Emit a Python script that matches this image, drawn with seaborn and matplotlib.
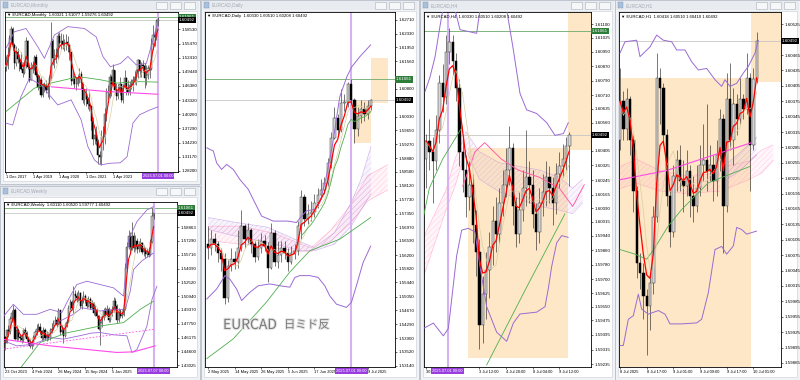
import numpy as np
import pandas as pd
import matplotlib
matplotlib.use("Agg")
import matplotlib.pyplot as plt
import matplotlib.patches as mpatches
import matplotlib.transforms as mtrans
import matplotlib.patheffects as pe
import seaborn as sns

# ---------------- Monthly (index 0 = Dec 2017) ----------------
m_open0 = 1.5040
m_close = [1.5080, 1.5310, 1.5660, 1.5870, 1.5510, 1.5130, 1.5360, 1.5220, 1.5160, 1.5000,
           1.4910, 1.5080, 1.5600, 1.5040, 1.4760, 1.5000, 1.5080, 1.5260, 1.4880, 1.4620,
           1.4760, 1.4440, 1.4660, 1.4640, 1.4560, 1.4640, 1.4810, 1.5610, 1.5240, 1.5300,
           1.5250, 1.5700, 1.5560, 1.5600, 1.5530, 1.5560, 1.5580, 1.5520, 1.5360, 1.4740,
           1.4780, 1.4680, 1.4690, 1.4810, 1.4900, 1.4700, 1.4340, 1.4460, 1.4360, 1.4240,
           1.4200, 1.3880, 1.3510, 1.3580, 1.3450, 1.3160, 1.3110, 1.3540, 1.3540, 1.4030,
           1.4510, 1.4500, 1.4820, 1.4690, 1.4970, 1.4560, 1.4420, 1.4510, 1.4680, 1.4340,
           1.4610, 1.4800, 1.4580, 1.4510, 1.4660, 1.4660, 1.4760, 1.4830, 1.4980, 1.5200,
           1.4950, 1.5080, 1.5070, 1.4810, 1.4870, 1.5030, 1.5000, 1.5540, 1.5720, 1.5690,
           1.6040, 1.6049]
m_high = [1.5290, 1.5480, 1.5720, 1.5930, 1.5900, 1.5560, 1.5500, 1.5460, 1.5330, 1.5360,
          1.5150, 1.5200, 1.5680, 1.5630, 1.5130, 1.5150, 1.5180, 1.5300, 1.5320, 1.4900,
          1.4880, 1.4820, 1.4700, 1.4720, 1.4760, 1.4700, 1.4880, 1.6000, 1.5650, 1.5420,
          1.5450, 1.5780, 1.5790, 1.5770, 1.5760, 1.5640, 1.5760, 1.5700, 1.5560, 1.5370,
          1.4960, 1.4880, 1.4840, 1.4880, 1.5020, 1.4960, 1.4720, 1.4580, 1.4590, 1.4410,
          1.4530, 1.4220, 1.3970, 1.3700, 1.3770, 1.3500, 1.3250, 1.3700, 1.3780, 1.4160,
          1.4600, 1.4650, 1.4890, 1.4870, 1.5110, 1.4990, 1.4700, 1.4680, 1.4820, 1.4690,
          1.4670, 1.4990, 1.4820, 1.4770, 1.4750, 1.4780, 1.4860, 1.4950, 1.4990, 1.5210,
          1.5200, 1.5160, 1.5200, 1.5120, 1.5090, 1.5090, 1.5130, 1.5660, 1.5940, 1.5840,
          1.6080, 1.6108]
m_low = [1.4960, 1.5000, 1.5270, 1.5550, 1.5400, 1.5000, 1.5060, 1.5130, 1.4950, 1.4990,
         1.4840, 1.4890, 1.5020, 1.5000, 1.4720, 1.4760, 1.4920, 1.4980, 1.4840, 1.4560,
         1.4590, 1.4400, 1.4410, 1.4500, 1.4480, 1.4400, 1.4350, 1.4770, 1.5090, 1.5030,
         1.5130, 1.5210, 1.5480, 1.5440, 1.5420, 1.5380, 1.5400, 1.5370, 1.5200, 1.4660,
         1.4680, 1.4600, 1.4550, 1.4640, 1.4710, 1.4570, 1.4270, 1.4230, 1.4200, 1.4150,
         1.4100, 1.3700, 1.3380, 1.3390, 1.3370, 1.2970, 1.2960, 1.2950, 1.3260, 1.3390,
         1.3890, 1.4360, 1.4390, 1.4430, 1.4640, 1.4480, 1.4340, 1.4350, 1.4450, 1.4300,
         1.4280, 1.4580, 1.4440, 1.4440, 1.4440, 1.4580, 1.4530, 1.4670, 1.4660, 1.4810,
         1.4820, 1.4820, 1.4930, 1.4590, 1.4660, 1.4790, 1.4800, 1.4990, 1.5400, 1.5490,
         1.5630, 1.5928]
m_bb_up_x = [0, 5, 12, 19, 23, 29, 37, 47, 54, 58, 62.5, 68.5, 73, 78, 84, 88, 91]
m_bb_up = [1.5445, 1.5800, 1.5870, 1.5480, 1.5230, 1.5730, 1.5910, 1.5870, 1.5690, 1.5270,
           1.5050, 1.5120, 1.5270, 1.5090, 1.5120, 1.5620, 1.6020]
m_bb_lo_x = [0, 4, 9, 14, 21, 31, 39, 45, 49, 53, 56.5, 62.5, 68.5, 72.5, 76, 80, 86, 91]
m_bb_lo = [1.3840, 1.3800, 1.4410, 1.4800, 1.4660, 1.4230, 1.4340, 1.3910, 1.3340, 1.3050,
           1.2945, 1.2980, 1.2990, 1.3120, 1.3840, 1.4020, 1.4120, 1.4190]
m_green_x = [0, 17, 27, 39, 47, 56.5, 66.5, 80, 91]
m_green = [1.4090, 1.4590, 1.4700, 1.4800, 1.4820, 1.4770, 1.4700, 1.4730, 1.4720]
m_mag_x = [27, 60, 91]
m_mag = [1.4620, 1.4520, 1.4460]
m_yticks = [1.28200, 1.31170, 1.34230, 1.37290, 1.40260, 1.43320, 1.46380, 1.49440,
            1.52410, 1.55470, 1.58530]
m_xtick_pos = [0, 16, 32, 48, 64]
m_xtick_lab = ["1 Dec 2017", "1 Apr 2019", "1 Aug 2020", "1 Dec 2021", "1 Apr 2023"]

# ---------------- Weekly (index 0 = 23 Oct 2023) ----------------
w_open0 = 1.4620
w_close = [1.4560, 1.4700, 1.4690, 1.4830, 1.4900, 1.4940, 1.4600, 1.4710, 1.4620, 1.4610,
           1.4590, 1.4700, 1.4670, 1.4600, 1.4560, 1.4520, 1.4540, 1.4620, 1.4680, 1.4720,
           1.4740, 1.4690, 1.4610, 1.4700, 1.4610, 1.4640, 1.4610, 1.4700, 1.4720, 1.4790,
           1.4820, 1.4770, 1.4930, 1.4680, 1.4710, 1.4640, 1.4760, 1.4800, 1.4960, 1.5030,
           1.4960, 1.5120, 1.5100, 1.5070, 1.5130, 1.4980, 1.5040, 1.5100, 1.5050, 1.4980,
           1.5060, 1.4960, 1.5010, 1.4900, 1.4930, 1.4860, 1.4720, 1.4780, 1.4850, 1.4920,
           1.4880, 1.4950, 1.4820, 1.4900, 1.4930, 1.5040, 1.4980, 1.4820, 1.4920, 1.4870,
           1.4880, 1.4950, 1.5420, 1.5660, 1.5790, 1.5660, 1.5790, 1.5650, 1.5730, 1.5630,
           1.5690, 1.5700, 1.5600, 1.5620, 1.5580, 1.5600, 1.5570, 1.5720, 1.6011, 1.6049]
w_high = [1.4640, 1.4720, 1.4760, 1.4860, 1.4930, 1.4990, 1.4960, 1.4760, 1.4730, 1.4660,
          1.4650, 1.4730, 1.4740, 1.4690, 1.4640, 1.4600, 1.4590, 1.4650, 1.4710, 1.4770,
          1.4790, 1.4780, 1.4710, 1.4740, 1.4730, 1.4690, 1.4680, 1.4730, 1.4780, 1.4820,
          1.4860, 1.4850, 1.4960, 1.4940, 1.4760, 1.4740, 1.4790, 1.4830, 1.4990, 1.5060,
          1.5050, 1.5210, 1.5170, 1.5140, 1.5160, 1.5140, 1.5080, 1.5150, 1.5120, 1.5070,
          1.5090, 1.5080, 1.5050, 1.5030, 1.4990, 1.4960, 1.4880, 1.4820, 1.4880, 1.4960,
          1.4970, 1.4990, 1.4970, 1.4940, 1.4980, 1.5080, 1.5070, 1.5000, 1.4960, 1.4950,
          1.4930, 1.5010, 1.5480, 1.5720, 1.5850, 1.5830, 1.5940, 1.5830, 1.5800, 1.5760,
          1.5730, 1.5760, 1.5720, 1.5680, 1.5660, 1.5650, 1.5660, 1.5750, 1.6108, 1.6052]
w_low = [1.4480, 1.4550, 1.4620, 1.4660, 1.4800, 1.4850, 1.4590, 1.4580, 1.4590, 1.4580,
         1.4550, 1.4570, 1.4620, 1.4580, 1.4530, 1.4500, 1.4490, 1.4520, 1.4600, 1.4650,
         1.4700, 1.4660, 1.4590, 1.4590, 1.4590, 1.4580, 1.4590, 1.4590, 1.4670, 1.4700,
         1.4760, 1.4740, 1.4760, 1.4650, 1.4660, 1.4550, 1.4620, 1.4740, 1.4790, 1.4930,
         1.4930, 1.4900, 1.5050, 1.5030, 1.5040, 1.4960, 1.4950, 1.5010, 1.5020, 1.4960,
         1.4970, 1.4950, 1.4950, 1.4880, 1.4870, 1.4840, 1.4700, 1.4530, 1.4740, 1.4820,
         1.4850, 1.4860, 1.4800, 1.4800, 1.4860, 1.4910, 1.4960, 1.4790, 1.4800, 1.4840,
         1.4840, 1.4860, 1.4940, 1.5400, 1.5640, 1.5600, 1.5620, 1.5600, 1.5610, 1.5590,
         1.5600, 1.5640, 1.5580, 1.5560, 1.5530, 1.5540, 1.5540, 1.5560, 1.5700, 1.5978]
w_bb_up_x = [-1, 5, 11, 19, 27, 34, 38, 43, 49, 57, 65, 71, 74, 79, 85, 89]
w_bb_up = [1.4858, 1.5000, 1.4885, 1.4885, 1.4942, 1.4904, 1.5056, 1.5227, 1.5265, 1.5227,
           1.5189, 1.5094, 1.5741, 1.5950, 1.6084, 1.6122]
w_bb_mid_x = [30, 33, 41, 46, 51, 57, 65, 72, 75, 77, 82, 89]
w_bb_mid = [1.4790, 1.4808, 1.4885, 1.4961, 1.4942, 1.4923, 1.4942, 1.4942, 1.5150, 1.5400,
            1.5500, 1.5590]
w_bb_lo_x = [-1, 7, 17, 27, 35, 45, 52, 57, 65, 73, 76, 79, 85, 88, 91]
w_bb_lo = [1.4582, 1.4523, 1.4541, 1.4619, 1.4600, 1.4640, 1.4670, 1.4676, 1.4650, 1.4638,
           1.4447, 1.4480, 1.4751, 1.5056, 1.5209]
w_green_x = [8, 21, 37, 57, 71, 81, 89]
w_green = [1.4237, 1.4561, 1.4672, 1.4751, 1.4790, 1.4942, 1.5037]
w_mag_x = [-1, 27, 47, 67, 77, 90]
w_mag = [1.4599, 1.4523, 1.4485, 1.4447, 1.4454, 1.4523]
w_magd_x = [-1, 90]
w_magd = [1.4485, 1.4714]
w_yticks = [1.43025, 1.44600, 1.46175, 1.47750, 1.49370, 1.50940, 1.52520, 1.54090,
            1.55716, 1.57290, 1.58863]
w_xtick_pos = [0, 16, 32, 48, 64]
w_xtick_lab = ["23 Oct 2023", "4 Feb 2024", "26 May 2024", "15 Sep 2024", "5 Jan 2025"]

# ---------------- Daily (index 0 = 2 May 2025) ----------------
d_open0 = 1.5650
d_close = [1.5640, 1.5665, 1.5650, 1.5625, 1.5610, 1.5500, 1.5590, 1.5610, 1.5600, 1.5640,
           1.5700, 1.5665, 1.5690, 1.5650, 1.5615, 1.5640, 1.5660, 1.5645, 1.5585, 1.5680,
           1.5600, 1.5620, 1.5640, 1.5625, 1.5600, 1.5625, 1.5630, 1.5700, 1.5780, 1.5720,
           1.5735, 1.5740, 1.5765, 1.5785, 1.5800, 1.5820, 1.5875, 1.5945, 1.6000, 1.5965,
           1.6040, 1.6045, 1.6095, 1.6049, 1.5970, 1.6005, 1.6025, 1.6010, 1.6033, 1.6049]
d_high = [1.5700, 1.5690, 1.5680, 1.5660, 1.5640, 1.5625, 1.5610, 1.5640, 1.5630, 1.5690,
          1.5745, 1.5705, 1.5710, 1.5695, 1.5660, 1.5665, 1.5680, 1.5675, 1.5655, 1.5710,
          1.5690, 1.5660, 1.5660, 1.5660, 1.5640, 1.5645, 1.5650, 1.5715, 1.5800, 1.5790,
          1.5760, 1.5770, 1.5790, 1.5805, 1.5830, 1.5835, 1.5890, 1.5960, 1.6030, 1.6010,
          1.6080, 1.6065, 1.6100, 1.6108, 1.6055, 1.6030, 1.6050, 1.6045, 1.6050, 1.6051]
d_low = [1.5610, 1.5620, 1.5630, 1.5600, 1.5575, 1.5485, 1.5490, 1.5575, 1.5580, 1.5585,
         1.5630, 1.5640, 1.5650, 1.5625, 1.5600, 1.5605, 1.5625, 1.5630, 1.5545, 1.5580,
         1.5590, 1.5585, 1.5600, 1.5610, 1.5575, 1.5595, 1.5610, 1.5620, 1.5665, 1.5700,
         1.5705, 1.5715, 1.5725, 1.5750, 1.5775, 1.5790, 1.5810, 1.5860, 1.5940, 1.5950,
         1.5960, 1.6020, 1.6030, 1.6040, 1.5931, 1.5950, 1.5985, 1.5990, 1.5998, 1.6021]
d_bb_up_x = [-0.4, 1.6, 2.6, 4.1, 5.6, 7.6, 9.6, 12.1, 13.6, 16.1, 19.6, 24.1, 26.6, 28.1,
             29.6, 32.1, 33.6, 35.4, 37.5, 39.6, 41.7, 43.2, 45.6, 48.9]
d_bb_up = [1.5917, 1.5908, 1.5875, 1.5857, 1.5871, 1.5857, 1.5829, 1.5802, 1.5774, 1.5728,
           1.5714, 1.5714, 1.5710, 1.5728, 1.5742, 1.5747, 1.5765, 1.5830, 1.5930, 1.6058,
           1.6113, 1.6141, 1.6169, 1.6202]
d_bb_lo_x = [-0.4, 2.6, 5.1, 6.6, 8.6, 10.1, 12.6, 15.1, 18.6, 21.6, 24.6, 26.1, 27.6, 30.6,
             33.1, 35.1, 36.6, 38.6, 41.6, 43.1, 44.6, 46.6, 48.9]
d_bb_lo = [1.5498, 1.5526, 1.5563, 1.5553, 1.5526, 1.5494, 1.5517, 1.5535, 1.5540, 1.5535,
           1.5531, 1.5558, 1.5563, 1.5563, 1.5558, 1.5535, 1.5507, 1.5484, 1.5475, 1.5489,
           1.5535, 1.5599, 1.5645]
d_green_x = [-0.4, 7.6, 17.6, 24.6, 30.6, 39.6, 48.9]
d_green = [1.5333, 1.5388, 1.5490, 1.5573, 1.5632, 1.5664, 1.5724]
d_rib1_x = [0, 8, 18, 28, 32, 38, 43, 46, 49]
d_rib1_hi = [1.5724, 1.5711, 1.5697, 1.5656, 1.5641, 1.5682, 1.5765, 1.5830, 1.5921]
d_rib1_lo = [1.5691, 1.5673, 1.5655, 1.5632, 1.5632, 1.5650, 1.5700, 1.5745, 1.5790]
d_rib2_x = [0, 10, 20, 28, 31, 37, 43, 48, 54]
d_rib2_hi = [1.5700, 1.5700, 1.5680, 1.5650, 1.5640, 1.5690, 1.5760, 1.5840, 1.5870]
d_rib2_lo = [1.5660, 1.5650, 1.5640, 1.5630, 1.5630, 1.5660, 1.5710, 1.5770, 1.5800]
d_box1 = [43.8, 49.0, 1.5931, 1.6049]
d_box2 = [49.0, 54.0, 1.6041, 1.6165]
d_yticks = [1.53140, 1.53520, 1.53900, 1.54290, 1.54670, 1.55050, 1.55440, 1.55820, 1.56200,
            1.56590, 1.56970, 1.57350, 1.57730, 1.58120, 1.58500, 1.58880, 1.59270, 1.59650,
            1.60030, 1.60800, 1.61560, 1.61950, 1.62330, 1.62710]
d_xtick_pos = [0, 8, 16, 24, 32, 48]
d_xtick_lab = ["2 May 2025", "14 May 2025", "26 May 2025", "5 Jun 2025", "17 Jun 2025",
               "9 Jul 2025"]

# ---------------- H4 (index 0 = 30 Jun 20:00) ----------------
h4_open0 = 1.6036
h4_close = [1.6046, 1.6040, 1.6035, 1.6052, 1.6078, 1.6070, 1.6095, 1.6100, 1.6090, 1.6075,
            1.6040, 1.6030, 1.6015, 1.6022, 1.6000, 1.5985, 1.5945, 1.5962, 1.5975, 1.5988,
            1.6002, 1.5995, 1.6012, 1.6022, 1.6030, 1.6042, 1.6010, 1.5995, 1.6008, 1.6020,
            1.6026, 1.6022, 1.6006, 1.5996, 1.6012, 1.6018, 1.6026, 1.6020, 1.6012, 1.6028,
            1.6032, 1.6036, 1.6043, 1.6049]
h4_high = [1.6050, 1.6058, 1.6048, 1.6060, 1.6082, 1.6088, 1.6104, 1.6108, 1.6104, 1.6094,
           1.6080, 1.6048, 1.6038, 1.6035, 1.6028, 1.6008, 1.5992, 1.5972, 1.5985, 1.5996,
           1.6010, 1.6015, 1.6020, 1.6030, 1.6042, 1.6054, 1.6045, 1.6015, 1.6018, 1.6030,
           1.6052, 1.6035, 1.6030, 1.6012, 1.6020, 1.6028, 1.6035, 1.6032, 1.6026, 1.6034,
           1.6040, 1.6044, 1.6048, 1.6051]
h4_low = [1.6020, 1.6030, 1.6012, 1.6030, 1.6045, 1.6062, 1.6066, 1.6088, 1.6082, 1.6068,
          1.6032, 1.6018, 1.6004, 1.6008, 1.5990, 1.5972, 1.5932, 1.5935, 1.5948, 1.5960,
          1.5978, 1.5985, 1.5990, 1.6005, 1.6015, 1.6022, 1.6000, 1.5988, 1.5990, 1.6002,
          1.6010, 1.6012, 1.5998, 1.5986, 1.5990, 1.6005, 1.6010, 1.6012, 1.6000, 1.6006,
          1.6020, 1.6026, 1.6030, 1.6021]
h4_bb_up_x = [-0.3, 1.2, 2.7, 4.2, 5.7, 7.5, 8.7, 10.2, 15.2, 16.2, 20, 24.2, 26.2, 28.2,
              30.2, 33.2, 36.2, 38.7, 41.2, 42.7]
h4_bb_up = [1.6073, 1.6081, 1.6092, 1.6109, 1.6125, 1.6135, 1.6118, 1.6107, 1.6105, 1.6118,
            1.6140, 1.6118, 1.6096, 1.6072, 1.6063, 1.6061, 1.6056, 1.6049, 1.6050, 1.6056]
h4_bb_lo_x = [-0.8, 2.2, 5.2, 6.7, 9.2, 10.7, 12.7, 14.7, 16.2, 18.2, 21.2, 24.2, 26.2, 28.2,
              33.2, 35.7, 36.7, 37.7, 39.2, 40.7, 42.7]
h4_bb_lo = [1.5943, 1.5946, 1.5939, 1.5943, 1.5983, 1.5997, 1.5998, 1.5996, 1.5977, 1.5955,
            1.5941, 1.5936, 1.5946, 1.5951, 1.5952, 1.5955, 1.5965, 1.5977, 1.5990, 1.5994,
            1.5993]
h4_green_a_x = [-1, 1, 5, 11]
h4_green_a = [1.6002, 1.6020, 1.6036, 1.6054]
h4_green_b_x = [18.2, 30, 41.7]
h4_green_b = [1.5923, 1.5965, 1.6006]
h4_ribA_x = [-1, 6, 8.7, 12]
h4_ribA_hi = [1.5992, 1.6019, 1.6036, 1.6051]
h4_ribA_lo = [1.5970, 1.6008, 1.6021, 1.6041]
h4_ribB_x = [12, 16, 22, 28, 34, 40, 44, 47]
h4_ribB_hi = [1.6051, 1.6040, 1.6034, 1.6032, 1.6030, 1.6026, 1.6020, 1.6025]
h4_ribB_lo = [1.6041, 1.6025, 1.6018, 1.6014, 1.6010, 1.6008, 1.6006, 1.6012]
h4_pink_x = [11, 14.7, 17.6, 22.6, 27.6, 34, 40, 44, 47.5]
h4_pink = [1.6021, 1.6040, 1.6045, 1.6036, 1.6030, 1.6026, 1.6020, 1.6010, 1.6022]
h4_box1 = [12.7, 42.7, 1.5927, 1.6042]
h4_box2 = [42.7, 49.6, 1.6041, 1.6117]
h4_yticks = [1.59235, 1.59315, 1.59395, 1.59475, 1.59550, 1.59625, 1.59700, 1.59780,
             1.59860, 1.59940, 1.60015, 1.60090, 1.60165, 1.60245, 1.60325, 1.60405,
             1.60560, 1.60635, 1.60710, 1.60790, 1.60870, 1.60950, 1.61025, 1.61100]
h4_xtick_pos = [0, 16, 24, 32, 40]
h4_xtick_lab = ["30 J", "3 Jul 12:00", "4 Jul 20:00", "8 Jul 04:00", "9 Jul 12:00"]

# ---------------- H1 (index 0 = 8 Jul 09:00) ----------------
h1_open0 = 1.60300
h1_close = [1.60375, 1.60320, 1.60380, 1.60300, 1.60200, 1.60060, 1.60040, 1.59995, 1.59975,
            1.60020, 1.60150, 1.60420, 1.60400, 1.60310, 1.60190, 1.60120, 1.60230, 1.60260,
            1.60220, 1.60210, 1.60240, 1.60190, 1.60170, 1.60205, 1.60250, 1.60260, 1.60240,
            1.60250, 1.60220, 1.60270, 1.60340, 1.60170, 1.60380, 1.60300, 1.60370, 1.60340,
            1.60380, 1.60360, 1.60420, 1.60290, 1.60418, 1.60492]
h1_high = [1.60440, 1.60395, 1.60400, 1.60385, 1.60310, 1.60210, 1.60080, 1.60060, 1.60010,
           1.60040, 1.60170, 1.60470, 1.60440, 1.60410, 1.60320, 1.60200, 1.60250, 1.60280,
           1.60290, 1.60260, 1.60280, 1.60250, 1.60230, 1.60250, 1.60290, 1.60330, 1.60370,
           1.60290, 1.60270, 1.60300, 1.60360, 1.60350, 1.60430, 1.60450, 1.60400, 1.60390,
           1.60420, 1.60390, 1.60470, 1.60430, 1.60440, 1.60510]
h1_low = [1.60280, 1.60300, 1.60300, 1.60270, 1.60160, 1.60030, 1.60010, 1.59950, 1.59880,
          1.59930, 1.60000, 1.60140, 1.60330, 1.60290, 1.60170, 1.60090, 1.60110, 1.60200,
          1.60200, 1.60160, 1.60190, 1.60150, 1.60140, 1.60160, 1.60190, 1.60220, 1.60200,
          1.60220, 1.60180, 1.60190, 1.60240, 1.60080, 1.60160, 1.60280, 1.60250, 1.60310,
          1.60330, 1.60340, 1.60350, 1.60200, 1.60280, 1.60410]
h1_bb_up_x = [0, 1.5, 5, 6, 9, 11, 13, 15.5, 17, 19.5, 21.5, 23.5, 26, 28.5, 30.5, 31.5,
              33, 35, 37, 38.5, 40.5, 41.5]
h1_bb_up = [1.60469, 1.60491, 1.60494, 1.60462, 1.60481, 1.60504, 1.60494, 1.60491, 1.60475,
            1.60475, 1.60452, 1.60436, 1.60439, 1.60417, 1.60404, 1.60417, 1.60404, 1.60410,
            1.60430, 1.60443, 1.60469, 1.60494]
h1_bb_lo_x = [0, 1, 2.5, 4, 5.5, 6.5, 8.5, 11.5, 13.5, 15, 18.5, 23, 24.5, 26.5, 28.5, 30.5,
              32, 34, 35, 36.5, 38, 41]
h1_bb_lo = [1.59899, 1.59899, 1.59950, 1.59957, 1.59999, 1.59970, 1.59960, 1.59967, 1.59960,
            1.59941, 1.59941, 1.59943, 1.59950, 1.60002, 1.60086, 1.60092, 1.60077, 1.60093,
            1.60129, 1.60125, 1.60116, 1.60122]
h1_green_x = [0, 4.5, 8, 10.5, 14.5, 18.5, 22.5, 26.5, 31.5, 39]
h1_green = [1.60086, 1.60077, 1.60067, 1.60090, 1.60132, 1.60164, 1.60190, 1.60216, 1.60229,
            1.60248]
h1_mag_x = [0, 14, 28, 39.3]
h1_mag = [1.60222, 1.60240, 1.60270, 1.60294]
h1_ribL_x = [0, 5, 12, 20, 30]
h1_ribL_hi = [1.60248, 1.60262, 1.60240, 1.60230, 1.60235]
h1_ribL_lo = [1.60205, 1.60215, 1.60200, 1.60195, 1.60200]
h1_ribR_x = [31.5, 38.5, 42.5, 46]
h1_ribR_hi = [1.60248, 1.60258, 1.60280, 1.60290]
h1_ribR_lo = [1.60203, 1.60222, 1.60235, 1.60260]
h1_ribP_x = [31.5, 36, 41]
h1_ribP_hi = [1.60250, 1.60275, 1.60305]
h1_ribP_lo = [1.60220, 1.60240, 1.60270]
h1_box1 = [-0.4, 39.2, 1.59857, 1.60421]
h1_box2 = [39.2, 48.4, 1.60413, 1.60549]
h1_yticks = [1.59865, 1.59895, 1.59925, 1.59955, 1.59985, 1.60015, 1.60045, 1.60075,
             1.60105, 1.60135, 1.60165, 1.60195, 1.60225, 1.60255, 1.60285, 1.60315,
             1.60345, 1.60375, 1.60405, 1.60435, 1.60465, 1.60525]
h1_xtick_pos = [0, 8, 16, 24, 32, 40]
h1_xtick_lab = ["8 Jul 2025", "8 Jul 17:00", "9 Jul 01:00", "9 Jul 09:00", "9 Jul 17:00",
                "10 Jul 01:00"]

level_green = 1.61061
level_last = 1.60492

# ================= drawing =================
sns.set_theme(style="white")
plt.rcParams['font.family'] = ['Liberation Sans', 'DejaVu Sans']
plt.rcParams['hatch.linewidth'] = 0.3

W, H = 800, 380
fig = plt.figure(figsize=(8, 3.8), dpi=100)
fig.patch.set_facecolor('#dfe3e9')

C_BAND = '#9a6ad2'
C_RED = '#ff0000'
C_TAN = '#d9cfa0'
C_GREEN = '#4fae4f'
C_MAG = '#ff4ae8'
C_ORANGE = '#fde7c6'
C_VLINE = '#d7b2f2'
C_BOX = '#9a3de0'


def prect(x, y, w, h, **kw):
    r = mpatches.Rectangle((x / W, 1 - (y + h) / H), w / W, h / H,
                           transform=fig.transFigure, zorder=-10, **kw)
    fig.add_artist(r)


def window(x, y, w, h, title):
    prect(x, y, w, h, facecolor='#f2f3f6', edgecolor='#b7bfca', linewidth=0.6)
    prect(x + 1, y + 1, w - 2, 9, facecolor='#e8ebef', edgecolor='none')
    prect(x + 3, y + 2.5, 5, 5, facecolor='#a8c0dc', edgecolor='#7d95b5', linewidth=0.3)
    fig.text((x + 11) / W, 1 - (y + 5.6) / H, title, fontsize=3.4, color='#a3a9b3',
             va='center', ha='left')
    for k in range(3):
        bx = x + w - 44 + k * 14
        prect(bx, y + 2, 11, 6.5, facecolor='#f6f7f9', edgecolor='#a9b1bc', linewidth=0.4)
    prect(x + 3, y + 11, w - 6, h - 14, facecolor='white', edgecolor='#c7ccd4', linewidth=0.4)


def panel(l, t, r, b):
    ax = fig.add_axes([l / W, 1 - b / H, (r - l) / W, (b - t) / H])
    ax.set_facecolor('white')
    for s in ax.spines.values():
        s.set_visible(True)
        s.set_color('black')
        s.set_linewidth(0.6)
    return ax


def candles(ax, op0, close, high, low, yr, width=0.7):
    c = np.asarray(close, dtype=float)
    o = np.r_[op0, c[:-1]]
    idx = np.arange(len(c))
    ax.vlines(idx, low, high, color='#2b2b2b', linewidth=0.45, zorder=3)
    body = np.maximum(np.abs(c - o), yr * 0.002)
    bottom = np.minimum(o, c)
    up = c >= o
    ax.bar(idx[up], body[up], bottom=bottom[up], width=width, color='#d6d6d6',
           edgecolor='#3a3a3a', linewidth=0.35, zorder=4)
    ax.bar(idx[~up], body[~up], bottom=bottom[~up], width=width, color='black',
           edgecolor='black', linewidth=0.35, zorder=4)


def sline(ax, x, y, color, lw, ls='-', z=6, alpha=1.0):
    sns.lineplot(x=list(x), y=list(y), ax=ax, color=color, linewidth=lw, linestyle=ls,
                 estimator=None, sort=False, zorder=z, alpha=alpha, legend=False)


def ribbon(ax, x, lo, hi, color):
    ax.fill_between(x, lo, hi, facecolor=matplotlib.colors.to_rgba(color, 0.08),
                    edgecolor=matplotlib.colors.to_rgba(color, 0.4), hatch='//////',
                    linewidth=0, zorder=1.5)
    sline(ax, x, hi, color, 0.4, z=1.6, alpha=0.6)
    sline(ax, x, lo, color, 0.4, z=1.6, alpha=0.6)


def box(ax, b):
    ax.fill_between([b[0], b[1]], b[2], b[3], color=C_ORANGE, linewidth=0, zorder=0.5)


def ema(v, span):
    return pd.Series(v).ewm(span=span, adjust=False).mean().to_numpy()


def sma(v, n):
    return pd.Series(v).rolling(n, min_periods=1).mean().to_numpy()


def finish(ax, xlim, ylim, yticks, xpos, xlab, header, vline=None, boxtext=None,
           tags=(True, True)):
    ax.set_xlim(*xlim)
    ax.set_ylim(*ylim)
    ax.set_xlabel('')
    ax.set_ylabel('')
    ax.yaxis.tick_right()
    ax.set_yticks(yticks)
    ax.set_yticklabels([f"{v:.5f}" for v in yticks])
    ax.set_xticks(xpos)
    ax.set_xticklabels(xlab, ha='left')
    ax.tick_params(axis='y', right=True, left=False, length=1.5, width=0.4, pad=1.2,
                   labelsize=3.2, colors='black')
    ax.tick_params(axis='x', bottom=True, length=1.5, width=0.4, pad=0.8,
                   labelsize=2.9, colors='black')
    if tags[0]:
        ax.axhline(level_green, color='#6aaa6a', linewidth=0.6, zorder=2)
    ax.axhline(level_last, color='#c6c6c6', linewidth=0.6, zorder=2)
    tr = mtrans.blended_transform_factory(ax.transAxes, ax.transData)
    if tags[0]:
        ax.text(1.004, level_green, f"{level_green:.5f}", transform=tr, fontsize=3.2,
                color='white', va='center', ha='left', clip_on=False, zorder=30,
                bbox=dict(boxstyle='square,pad=0.25', facecolor='#2e7d3a', edgecolor='none'))
    ax.text(1.004, level_last, f"{level_last:.5f}", transform=tr, fontsize=3.2,
            color='white', va='center', ha='left', clip_on=False, zorder=30,
            bbox=dict(boxstyle='square,pad=0.25', facecolor='black', edgecolor='none'))
    if vline is not None:
        ax.axvline(vline, color=C_VLINE, linewidth=1.5, zorder=2.5)
    if boxtext is not None:
        trx = mtrans.blended_transform_factory(ax.transData, ax.transAxes)
        ax.annotate(boxtext, xy=(vline, 0), xycoords=trx, xytext=(0, -1.6),
                    textcoords='offset points', fontsize=2.9, color='white', va='top',
                    ha='center', annotation_clip=False, zorder=30,
                    bbox=dict(boxstyle='square,pad=0.3', facecolor=C_BOX, edgecolor='none'))
    ax.text(0.012, 0.994, "\u25bc " + header, transform=ax.transAxes, fontsize=3.1,
            va='top', ha='left', color='black', zorder=31)


# ---- windows ----
window(0, 0, 200, 184, "EURCAD,Monthly")
window(0, 186, 200, 194, "EURCAD,Weekly")
window(201, 0, 218, 380, "EURCAD,Daily")
window(420, 0, 195, 380, "EURCAD,H4")
window(615, 0, 185, 380, "EURCAD,H1")

# ---- Monthly ----
ax = panel(5, 12, 178, 172)
ylim = (1.2792, 1.6224)
candles(ax, m_open0, m_close, m_high, m_low, ylim[1] - ylim[0])
xi = np.arange(len(m_close))
sline(ax, m_bb_up_x, m_bb_up, C_BAND, 0.6)
sline(ax, m_bb_lo_x, m_bb_lo, C_BAND, 0.6)
sline(ax, m_green_x, m_green, C_GREEN, 0.6)
sline(ax, m_mag_x, m_mag, C_MAG, 0.8)
sline(ax, xi, sma(m_close, 8), C_TAN, 0.5)
sline(ax, xi, ema(m_close, 4), C_RED, 0.8, z=7)
finish(ax, (-0.6, 103.0), ylim, m_yticks, m_xtick_pos, m_xtick_lab,
       "EURCAD,Monthly  1.60321 1.61077 1.59276 1.60492", vline=91,
       boxtext="2025.07.01 00:00")

# ---- Weekly ----
ax = panel(4, 202, 177, 367)
ylim = (1.4280, 1.6175)
candles(ax, w_open0, w_close, w_high, w_low, ylim[1] - ylim[0])
xi = np.arange(len(w_close))
sline(ax, w_bb_up_x, w_bb_up, C_BAND, 0.6)
sline(ax, w_bb_mid_x, w_bb_mid, C_BAND, 0.6)
sline(ax, w_bb_lo_x, w_bb_lo, C_BAND, 0.6)
sline(ax, w_green_x, w_green, C_GREEN, 0.6)
sline(ax, w_mag_x, w_mag, C_MAG, 0.8)
sline(ax, w_magd_x, w_magd, C_MAG, 0.6, ls=(0, (2, 2)))
sline(ax, xi, sma(w_close, 8), C_TAN, 0.5)
sline(ax, xi, ema(w_close, 4), C_RED, 0.8, z=7)
finish(ax, (-0.6, 103.0), ylim, w_yticks, w_xtick_pos, w_xtick_lab,
       "EURCAD,Weekly  1.60110 1.60520 1.59777 1.60492", vline=89,
       boxtext="2025.07.07 00:00")

# ---- Daily ----
ax = panel(205, 12, 395, 367)
ylim = (1.5310, 1.6293)
box(ax, d_box1)
box(ax, d_box2)
ribbon(ax, d_rib2_x, d_rib2_lo, d_rib2_hi, '#ff7fb0')
ribbon(ax, d_rib1_x, d_rib1_lo, d_rib1_hi, '#b07ee0')
candles(ax, d_open0, d_close, d_high, d_low, ylim[1] - ylim[0])
xi = np.arange(len(d_close))
sline(ax, d_bb_up_x, d_bb_up, C_BAND, 0.7)
sline(ax, d_bb_lo_x, d_bb_lo, C_BAND, 0.7)
sline(ax, d_green_x, d_green, C_GREEN, 0.6)
sline(ax, xi, sma(d_close, 6), C_TAN, 0.5)
sline(ax, xi[28:], ema(d_close, 8)[28:], C_GREEN, 0.6)
sline(ax, xi, ema(d_close, 4), C_RED, 0.9, z=7)
finish(ax, (-0.9, 56.2), ylim, d_yticks, d_xtick_pos, d_xtick_lab,
       "EURCAD,Daily  1.60330 1.60510 1.60208 1.60492", vline=43,
       boxtext="2025.07.01 00:00")
fx = pe.withStroke(linewidth=1.6, foreground='#e6e6e6')
fig.text(223 / W, 1 - 325 / H, "EURCAD", fontsize=10, color='#7a7a7a', va='center',
         ha='left', family=['Noto Sans CJK JP', 'DejaVu Sans'], path_effects=[fx])
fig.text(284 / W, 1 - 325 / H, "日ミド反", fontsize=8.2, color='#7a7a7a', va='center',
         ha='left', family=['Noto Sans CJK JP', 'DejaVu Sans'], path_effects=[fx])

# ---- H4 ----
ax = panel(424, 12, 591, 367)
ylim = (1.59219, 1.61167)
box(ax, h4_box1)
box(ax, h4_box2)
ribbon(ax, h4_ribA_x, h4_ribA_lo, h4_ribA_hi, '#ff80b8')
ribbon(ax, h4_ribB_x, h4_ribB_lo, h4_ribB_hi, '#c08ae0')
candles(ax, h4_open0, h4_close, h4_high, h4_low, ylim[1] - ylim[0])
xi = np.arange(len(h4_close))
sline(ax, h4_bb_up_x, h4_bb_up, C_BAND, 0.7)
sline(ax, h4_bb_lo_x, h4_bb_lo, C_BAND, 0.7)
sline(ax, h4_green_a_x, h4_green_a, C_GREEN, 0.6)
sline(ax, h4_green_b_x, h4_green_b, C_GREEN, 0.6)
sline(ax, h4_pink_x, h4_pink, '#ff5fa8', 0.7)
sline(ax, xi, sma(h4_close, 6), C_TAN, 0.5)
sline(ax, xi, ema(h4_close, 4), C_RED, 0.9, z=7)
finish(ax, (-0.6, 49.5), ylim, h4_yticks, h4_xtick_pos, h4_xtick_lab,
       "EURCAD,H4  1.60330 1.60510 1.60208 1.60492", vline=6.5,
       boxtext="2025.07.01 00:00")

# ---- H1 ----
ax = panel(619, 12, 781, 367)
ylim = (1.59857, 1.60549)
box(ax, h1_box1)
box(ax, h1_box2)
ribbon(ax, h1_ribL_x, h1_ribL_lo, h1_ribL_hi, '#ff8ac0')
ribbon(ax, h1_ribR_x, h1_ribR_lo, h1_ribR_hi, '#ff8ac0')
ribbon(ax, h1_ribP_x, h1_ribP_lo, h1_ribP_hi, '#b07ee0')
candles(ax, h1_open0, h1_close, h1_high, h1_low, ylim[1] - ylim[0])
xi = np.arange(len(h1_close))
sline(ax, h1_bb_up_x, h1_bb_up, C_BAND, 0.7)
sline(ax, h1_bb_lo_x, h1_bb_lo, C_BAND, 0.7)
sline(ax, h1_green_x, h1_green, C_GREEN, 0.6)
sline(ax, h1_mag_x, h1_mag, C_MAG, 0.8)
sline(ax, xi, sma(h1_close, 6), C_TAN, 0.5)
sline(ax, xi, ema(h1_close, 4), C_RED, 0.9, z=7)
finish(ax, (-0.3, 48.3), ylim, h1_yticks, h1_xtick_pos, h1_xtick_lab,
       "EURCAD,H1  1.60418 1.60510 1.60410 1.60492", tags=(False, True))

fig.savefig("out.png", dpi=100, facecolor=fig.get_facecolor())
